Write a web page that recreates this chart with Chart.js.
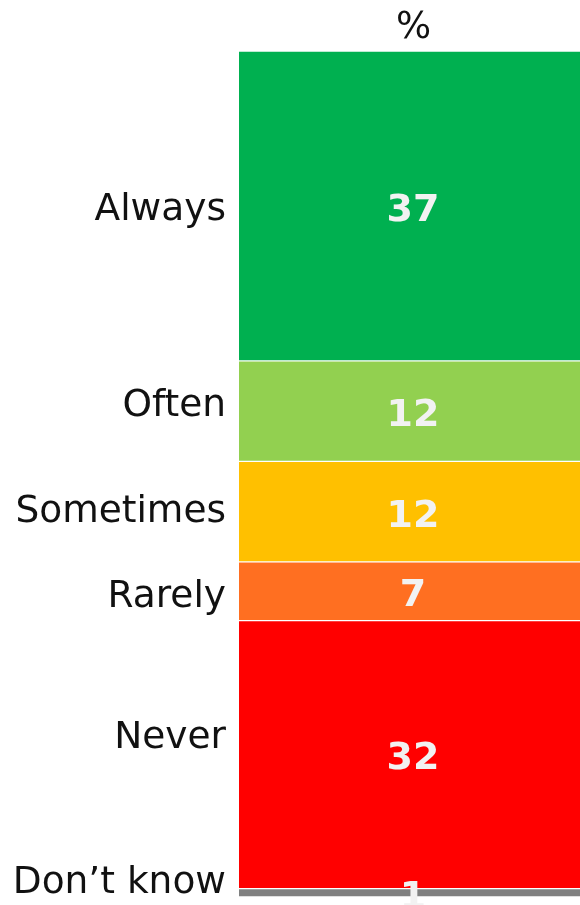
<!DOCTYPE html>
<html>
<head>
<meta charset="utf-8">
<script src="https://cdn.jsdelivr.net/npm/chart.js@4/dist/chart.umd.min.js"></script>
<style>
  html, body { margin: 0; padding: 0; background: #ffffff; }
  #wrap { width: 580px; height: 905px; }
</style>
</head>
<body>
<div id="wrap"><canvas id="c" width="580" height="905"></canvas></div>
<script>
const categories = ['Always', 'Often', 'Sometimes', 'Rarely', 'Never', 'Don\u2019t know'];
const values = [37, 12, 12, 7, 32, 1];
const colors = ['#00B050', '#92D050', '#FFC000', '#FF6F21', '#FF0000', '#808080'];
const headerLabel = '%';

const total = values.reduce((a, b) => a + b, 0);

const labelPlugin = {
  id: 'stackLabels',
  afterDatasetsDraw(chart, args, opts) {
    const ctx = chart.ctx;
    const area = chart.chartArea;
    ctx.save();
    // header
    ctx.fillStyle = '#111111';
    ctx.font = '37px "DejaVu Sans", Verdana, sans-serif';
    ctx.textAlign = 'center';
    ctx.textBaseline = 'middle';
    ctx.fillText(headerLabel, (area.left + area.right) / 2 + 4, area.top - 23);

    chart.data.datasets.forEach((ds, i) => {
      const bar = chart.getDatasetMeta(i).data[0];
      const cy = (bar.y + bar.base) / 2;
      // category label
      ctx.fillStyle = '#111111';
      ctx.font = '37.5px "DejaVu Sans", Verdana, sans-serif';
      ctx.textAlign = 'right';
      ctx.textBaseline = 'middle';
      ctx.fillText(ds.label, area.left - 13, cy + 4 + (opts.nudge[i] || 0));
      // value label
      ctx.fillStyle = '#F2F2F2';
      ctx.font = 'bold 38px "DejaVu Sans", Verdana, sans-serif';
      ctx.textAlign = 'center';
      ctx.fillText(String(ds.data[0]), bar.x + 3.5, cy + 5);
    });
    ctx.restore();
  }
};

new Chart(document.getElementById('c'), {
  type: 'bar',
  data: {
    labels: [''],
    datasets: categories.map((name, i) => ({
      label: name,
      data: [values[i]],
      backgroundColor: colors[i],
      borderColor: '#ffffff',
      borderWidth: { top: 1, bottom: 1, left: 0, right: 0 },
      borderSkipped: false,
      barPercentage: 1,
      categoryPercentage: 1
    }))
  },
  options: {
    responsive: false,
    animation: false,
    layout: { padding: { left: 239, right: 0, top: 51, bottom: 8 } },
    scales: {
      x: { stacked: true, display: false },
      y: { stacked: true, display: false, min: 0, max: total, reverse: true }
    },
    plugins: {
      legend: { display: false },
      tooltip: { enabled: false },
      stackLabels: { nudge: [0, -9, -3, 2, -20, -14] }
    }
  },
  plugins: [labelPlugin]
});
</script>
</body>
</html>
